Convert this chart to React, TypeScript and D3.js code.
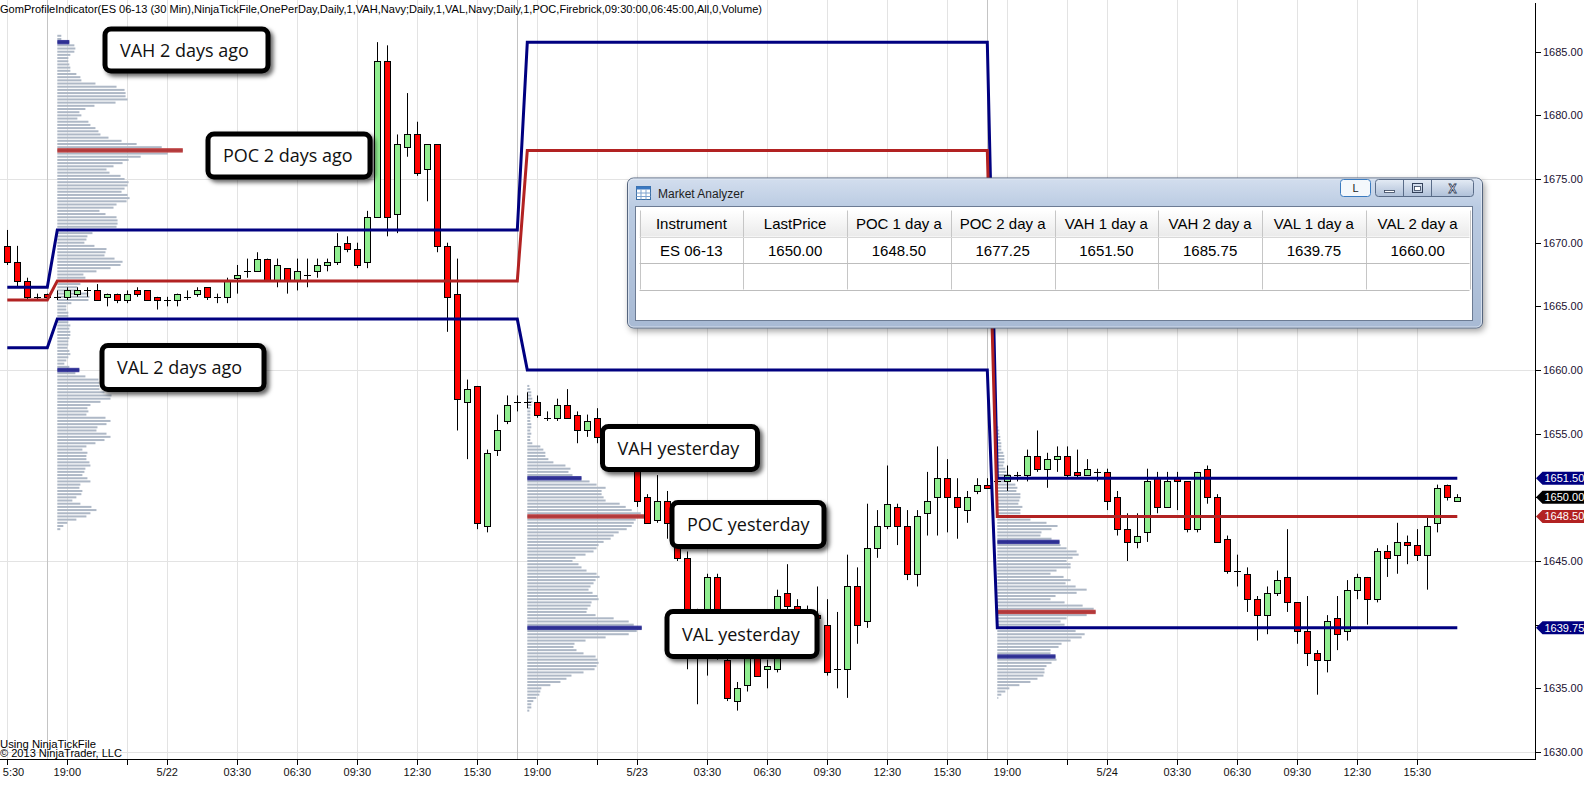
import React from "react";
import * as d3 from "d3";

const W = 1589;
const H = 785;

// 30 min bars, bar 0 = 15:30 on 5/21 (ES 06-13)
const opens = [
  1669.75, 1668.5, 1667.0, 1665.75, 1666.0,
  1665.75, 1665.75, 1666.0, 1666.25, 1666.25, 1665.75, 1666.0, 1665.5, 1666.25, 1666.25,
  1665.75, 1665.5, 1665.5, 1665.75, 1666.0, 1666.5, 1665.75, 1665.75, 1667.25, 1667.75,
  1667.75, 1668.75, 1667.0, 1668.0, 1667.0, 1667.5, 1667.75, 1668.25, 1668.5, 1670.0,
  1669.5, 1668.5, 1672.0, 1684.25, 1672.25, 1677.5, 1678.5, 1675.75, 1677.75, 1669.75,
  1666.0, 1657.5, 1658.75, 1647.75, 1653.75, 1656.0, 1657.5,
  1657.5, 1657.5, 1656.25, 1656.25, 1657.25, 1656.5, 1655.25, 1656.25, 1654.75, 1653.75,
  1654.25, 1652.25, 1650.0, 1648.25, 1649.75, 1647.75, 1645.25, 1640.5, 1639.5, 1643.75,
  1637.25, 1634.0, 1635.25, 1638.75, 1636.5, 1636.5, 1642.5, 1641.5, 1641.25, 1640.75,
  1640.0, 1636.5, 1636.5, 1643.0, 1640.25, 1646.0, 1647.75, 1649.25, 1647.75, 1644.0,
  1648.75, 1650.0, 1651.5, 1650.0, 1649.0, 1650.5, 1651.0,
  1651.25, 1651.25, 1651.75, 1651.75, 1653.25, 1652.25, 1653.0, 1653.25, 1652.0, 1651.75,
  1652.0, 1652.0, 1650.0, 1647.5, 1646.5, 1647.25, 1651.5, 1649.25, 1651.5, 1651.25,
  1647.5, 1652.25, 1650.0, 1646.75, 1644.25, 1644.0, 1642.0, 1640.75, 1642.5, 1643.75,
  1641.75, 1639.5, 1637.75, 1637.25, 1640.5, 1639.5, 1642.75, 1643.75, 1642.0, 1645.75,
  1645.5, 1646.5, 1646.25, 1645.5, 1648.0, 1651.0, 1649.75,
];
const highs = [
  1671.0, 1669.75, 1667.25, 1666.0, 1666.0,
  1666.25, 1666.5, 1666.5, 1666.5, 1666.75, 1666.0, 1666.0, 1666.25, 1666.5, 1666.25,
  1665.75, 1665.75, 1666.0, 1666.25, 1666.5, 1666.5, 1666.0, 1667.25, 1668.25, 1668.75,
  1669.25, 1668.75, 1668.75, 1668.0, 1668.75, 1668.75, 1668.75, 1668.75, 1670.75, 1670.5,
  1670.0, 1672.5, 1685.75, 1685.5, 1678.5, 1681.75, 1679.5, 1677.75, 1677.75, 1670.0,
  1668.75, 1659.25, 1658.75, 1653.75, 1656.5, 1658.0, 1658.0,
  1658.25, 1658.0, 1656.75, 1657.75, 1658.5, 1656.75, 1656.5, 1657.0, 1655.25, 1654.75,
  1654.5, 1652.5, 1650.25, 1651.75, 1650.5, 1648.0, 1645.75, 1641.25, 1644.0, 1644.0,
  1638.0, 1635.5, 1639.25, 1639.5, 1637.25, 1642.75, 1644.75, 1642.0, 1641.5, 1643.0,
  1642.0, 1641.0, 1645.5, 1644.5, 1649.5, 1649.0, 1652.5, 1649.5, 1649.0, 1649.0,
  1652.0, 1654.0, 1653.0, 1651.5, 1650.5, 1651.5, 1651.5,
  1651.5, 1652.5, 1652.0, 1653.75, 1655.25, 1653.5, 1654.0, 1654.0, 1653.75, 1653.0,
  1652.25, 1652.25, 1650.5, 1648.75, 1648.75, 1652.25, 1652.0, 1652.0, 1652.0, 1651.25,
  1652.0, 1652.5, 1650.25, 1647.0, 1645.5, 1644.5, 1642.25, 1643.0, 1644.25, 1647.5,
  1641.75, 1642.25, 1638.0, 1640.75, 1642.25, 1643.5, 1644.0, 1643.75, 1646.0, 1646.25,
  1648.0, 1647.0, 1647.5, 1648.5, 1651.0, 1651.0, 1650.25,
];
const lows = [
  1668.25, 1666.5, 1665.5, 1665.5, 1665.75,
  1665.5, 1665.5, 1665.75, 1665.75, 1665.5, 1665.0, 1665.25, 1665.25, 1665.75, 1665.5,
  1664.75, 1665.0, 1665.0, 1665.5, 1665.75, 1665.5, 1665.25, 1665.25, 1666.0, 1667.25,
  1667.75, 1667.0, 1666.5, 1666.0, 1666.25, 1666.5, 1667.25, 1667.75, 1668.25, 1669.25,
  1668.0, 1668.0, 1672.0, 1670.5, 1670.75, 1676.75, 1675.25, 1673.25, 1669.25, 1663.0,
  1655.25, 1653.0, 1647.5, 1647.25, 1653.25, 1655.75, 1656.75,
  1657.0, 1656.25, 1656.0, 1656.0, 1656.25, 1654.25, 1654.75, 1654.25, 1653.5, 1653.25,
  1652.0, 1649.25, 1648.0, 1648.0, 1646.75, 1645.0, 1636.5, 1633.75, 1636.0, 1637.25,
  1634.0, 1633.25, 1634.75, 1636.0, 1635.0, 1636.25, 1640.75, 1640.0, 1639.5, 1639.5,
  1636.0, 1635.0, 1634.25, 1638.5, 1639.75, 1645.25, 1647.5, 1646.25, 1643.5, 1643.0,
  1647.0, 1647.0, 1647.25, 1646.75, 1648.0, 1650.25, 1650.75,
  1651.0, 1650.5, 1651.25, 1651.25, 1652.0, 1650.75, 1652.0, 1651.5, 1651.5, 1651.75,
  1651.25, 1649.0, 1647.0, 1645.0, 1646.0, 1646.5, 1648.75, 1649.25, 1649.0, 1647.25,
  1647.25, 1649.5, 1646.5, 1644.0, 1643.0, 1641.0, 1638.75, 1639.25, 1642.25, 1641.0,
  1638.5, 1636.75, 1634.5, 1636.25, 1638.0, 1638.75, 1642.0, 1640.0, 1641.75, 1643.75,
  1644.0, 1644.75, 1645.0, 1642.75, 1647.25, 1649.75, 1649.75,
];
const closes = [
  1668.5, 1667.0, 1665.75, 1665.75, 1665.75,
  1665.75, 1666.25, 1666.25, 1666.25, 1665.5, 1666.0, 1665.5, 1666.0, 1666.0, 1665.5,
  1665.5, 1665.5, 1666.0, 1665.75, 1666.25, 1665.75, 1665.75, 1667.0, 1667.5, 1667.75,
  1668.75, 1667.0, 1668.25, 1667.0, 1667.75, 1667.5, 1668.25, 1668.5, 1669.75, 1669.5,
  1668.25, 1672.0, 1684.25, 1672.0, 1677.75, 1678.5, 1675.5, 1677.75, 1669.75, 1665.75,
  1657.75, 1658.5, 1648.0, 1653.5, 1655.25, 1657.25, 1657.5,
  1657.5, 1656.5, 1656.25, 1657.25, 1656.25, 1655.25, 1656.0, 1654.75, 1653.75, 1654.25,
  1652.25, 1649.75, 1648.0, 1649.75, 1648.0, 1645.25, 1640.5, 1640.0, 1643.75, 1639.0,
  1634.25, 1635.0, 1638.5, 1636.0, 1636.75, 1642.25, 1641.5, 1641.25, 1641.0, 1640.5,
  1636.25, 1636.5, 1643.0, 1640.0, 1646.0, 1647.75, 1649.5, 1647.75, 1644.0, 1648.5,
  1649.75, 1651.5, 1650.0, 1649.25, 1650.0, 1651.0, 1650.75,
  1651.25, 1651.75, 1651.75, 1653.25, 1652.25, 1653.0, 1653.25, 1651.75, 1651.75, 1652.25,
  1652.0, 1649.75, 1647.5, 1646.5, 1647.0, 1651.25, 1649.25, 1651.25, 1651.25, 1647.5,
  1652.0, 1650.0, 1646.5, 1644.25, 1644.25, 1642.0, 1640.75, 1642.5, 1643.5, 1641.75,
  1639.5, 1637.75, 1637.25, 1640.25, 1639.25, 1642.75, 1643.75, 1642.0, 1645.75, 1645.25,
  1646.5, 1646.25, 1645.5, 1647.75, 1650.75, 1650.0, 1650.0,
];

// time axis
const tickBars = [0, 6, 12, 16, 23, 29, 35, 41, 47, 53, 59, 63, 70, 76, 82, 88, 94, 100, 106, 110, 117, 123, 129, 135, 141];
const tickLabels = [
  "15:30", "19:00", "", "5/22", "03:30", "06:30", "09:30", "12:30", "15:30",
  "19:00", "", "5/23", "03:30", "06:30", "09:30", "12:30", "15:30",
  "19:00", "", "5/24", "03:30", "06:30", "09:30", "12:30", "15:30",
];
const sessionBreakBars = [4, 51, 98];

// prior-day levels, one value per session
const sessionStartBars = [0, 5, 52, 99];
const vahLevels = [1666.5, 1671.0, 1685.75, 1651.5];
const pocLevels = [1665.5, 1667.0, 1677.25, 1648.5];
const valLevels = [1661.75, 1664.0, 1660.0, 1639.75];

// volume profiles (relative volume per tick, from the top price down)
const profileStartBars = [5, 52, 99];
const profileTops = [1686.25, 1658.75, 1655.5];
const profileA = [
  4, 4, 12,
  17, 18, 17, 13, 11, 11, 12, 13, 13, 19, 23, 24, 38, 59, 67, 68, 68, 70, 58, 37,
  28, 22, 24, 20, 31, 33, 38, 41, 43, 51, 64, 79, 104,
  125,
  110, 83, 71, 65, 56, 49, 52, 63, 67, 71, 70, 67, 64, 70, 72, 69, 59, 56, 42, 48,
  59, 60, 60, 59, 49, 35, 30, 29, 27, 37, 49, 48, 47, 57, 65, 63, 53, 39, 26, 28,
  28, 23, 20, 19, 31, 32, 31, 14, 9, 9, 11, 11, 9, 11, 13, 12, 13, 13, 12, 11, 11,
  10, 12, 13, 11, 9, 7, 12,
  22,
  18, 28, 41, 42, 42, 42, 47, 54, 53, 43, 33, 30, 31, 29, 48, 53, 49, 40, 39, 49,
  53, 47, 38, 29, 25, 30, 29, 29, 32, 33, 28, 27, 25, 30, 33, 23, 22, 25, 24, 19,
  15, 23, 34, 39, 33, 29, 19, 10, 6, 3,
];
const profileB = [
  2, 3, 4, 4, 5, 5, 4, 3, 3, 3, 3, 3, 4, 4, 3, 4, 3, 3, 5, 13, 16, 18, 18, 21, 26, 38, 43, 41, 45,
  54,
  62, 69, 78, 74, 74, 76, 78, 92, 98, 104, 113,
  121,
  108, 106, 104, 99, 91, 86, 83, 76, 71, 69, 66, 58, 48, 45, 51, 54, 59, 69, 72, 68,
  66, 63, 61, 65, 70, 71, 64, 63, 60, 59, 68, 86, 101, 106,
  114,
  109, 101, 78, 58, 47, 46, 49, 56, 68, 70, 71, 69, 67, 56, 44, 39, 33, 23, 14, 13, 12, 9, 6, 4, 4, 2,
];
const profileC = [
  1, 2, 2, 3, 3, 4, 4, 4, 6, 7, 7, 7, 6, 8, 9, 13, 16, 13, 18, 20, 19, 23, 23, 22, 21, 25,
  23, 23, 33, 33, 49, 60, 54, 44, 43, 54,
  62,
  63, 69, 79, 81, 75, 69, 73, 73, 59, 53, 66, 73, 68, 78, 89, 79, 58, 53, 67, 85, 96,
  98,
  89, 69, 63, 67, 71, 78, 87, 84, 73, 64, 61, 53, 53,
  58,
  59, 54, 49, 47, 47, 46, 40, 33, 22, 12, 8, 4, 1,
];
const profiles = [profileA, profileB, profileC];
const profileVah = [1685.75, 1651.5, 1646.5];
const profilePoc = [1677.25, 1648.5, 1641.0];
const profileVal = [1660.0, 1639.75, 1637.5];

const yTicks = [1630, 1635, 1640, 1645, 1650, 1655, 1660, 1665, 1670, 1675, 1680, 1685];
const yGrid = [1630, 1645, 1660, 1675];

const analyzerColumns = ["Instrument", "LastPrice", "POC 1 day a", "POC 2 day a", "VAH 1 day a", "VAH 2 day a", "VAL 1 day a", "VAL 2 day a"];
const analyzerRow = ["ES 06-13", "1650.00", "1648.50", "1677.25", "1651.50", "1685.75", "1639.75", "1660.00"];

const titleText =
  "GomProfileIndicator(ES 06-13 (30 Min),NinjaTickFile,OnePerDay,Daily,1,VAH,Navy;Daily,1,VAL,Navy;Daily,1,POC,Firebrick,09:30:00,06:45:00,All,0,Volume)";

// annotation layout (not data)
const callouts = [
  { text: "VAH 2 days ago", x: 105, y: 29, w: 163, h: 42 },
  { text: "POC 2 days ago", x: 208, y: 134, w: 162, h: 43 },
  { text: "VAL 2 days ago", x: 102, y: 345.5, w: 162, h: 44 },
  { text: "VAH yesterday", x: 602.5, y: 426.5, w: 155, h: 43 },
  { text: "POC yesterday", x: 672, y: 502.5, w: 152, h: 44 },
  { text: "VAL yesterday", x: 667, y: 611.5, w: 150, h: 45 },
];

const NAVY = "#000080";
const FIRE = "#B22222";
const PLOT_RIGHT = 1535;
const PLOT_BOTTOM = 759;

export default function App() {
  const n = opens.length;
  const x = d3.scaleLinear().domain([0, n - 1]).range([7.3, 1457.3]);
  const y = d3.scaleLinear().domain([1630, 1685]).range([752, 51.7]);
  const vol = d3.scaleLinear().domain([0, 125]).range([0, 125.5]);
  const fmt = d3.format(".2f");

  const bars = d3.range(n);
  const sessionOf = (i: number) => d3.bisectRight(sessionStartBars, i) - 1;
  const levelPath = (levels: number[]) =>
    d3
      .line<number>()
      .x((i) => x(i))
      .y((i) => y(levels[sessionOf(i)]))(bars) as string;

  const crisp = (v: number) => Math.round(v) + 0.5;

  const markers = [
    { v: vahLevels[3], c: NAVY },
    { v: closes[n - 1], c: "#000" },
    { v: pocLevels[3], c: FIRE },
    { v: valLevels[3], c: NAVY },
  ];
  // axis labels hidden behind a price marker
  const shownTicks = yTicks.filter((p) => markers.every((m) => Math.abs(y(m.v) - y(p)) > 10));

  // market analyzer geometry
  const win = { x: 627.5, y: 178, w: 855, h: 150 };
  const grid = { x: 639.5, y: 210.5, colW: 103.75, headH: 26, rowH: 26.5 };

  return (
    <svg
      width={W}
      height={H}
      style={{ position: "absolute", left: 0, top: 0, background: "#fff" }}
      fontFamily="'Liberation Sans', Arial, sans-serif"
    >
      <defs>
        <filter id="boxShadow" x="-10%" y="-20%" width="130%" height="160%">
          <feDropShadow dx="3" dy="3" stdDeviation="2" floodColor="#000" floodOpacity="0.6" />
        </filter>
        <filter id="winShadow" x="-5%" y="-10%" width="110%" height="130%">
          <feDropShadow dx="2" dy="3" stdDeviation="3" floodColor="#000" floodOpacity="0.35" />
        </filter>
        <linearGradient id="frameGrad" x1="0" y1="0" x2="0" y2="1">
          <stop offset="0" stopColor="#D3DEEE" />
          <stop offset="0.2" stopColor="#BACBE2" />
          <stop offset="1" stopColor="#A8BAD4" />
        </linearGradient>
        <linearGradient id="headGrad" x1="0" y1="0" x2="0" y2="1">
          <stop offset="0" stopColor="#FFFFFF" />
          <stop offset="1" stopColor="#EAEAEA" />
        </linearGradient>
        <linearGradient id="btnGrad" x1="0" y1="0" x2="0" y2="1">
          <stop offset="0" stopColor="#E4EBF5" />
          <stop offset="0.5" stopColor="#C9D5E6" />
          <stop offset="1" stopColor="#AFC0D8" />
        </linearGradient>
        <clipPath id="plotClip">
          <rect x={0} y={0} width={PLOT_RIGHT} height={PLOT_BOTTOM} />
        </clipPath>
      </defs>

      <g clipPath="url(#plotClip)">
        {/* grid */}
        {tickBars.map((b, i) => (
          <line key={"vg" + i} x1={crisp(x(b))} x2={crisp(x(b))} y1={0} y2={PLOT_BOTTOM} stroke="#E3E3E3" />
        ))}
        {yGrid.map((p) => (
          <line key={"hg" + p} x1={0} x2={PLOT_RIGHT} y1={crisp(y(p))} y2={crisp(y(p))} stroke="#E3E3E3" />
        ))}
        {sessionBreakBars.map((b) => (
          <line key={"sb" + b} x1={crisp(x(b))} x2={crisp(x(b))} y1={0} y2={PLOT_BOTTOM} stroke="#C4C4C4" />
        ))}

        {/* volume profiles */}
        {profiles.map((rows, p) => {
          const x0 = x(profileStartBars[p]);
          const top = profileTops[p];
          const idx = (lvl: number) => Math.round((top - lvl) / 0.25);
          const hl = [
            { j: idx(profileVah[p]), c: NAVY, o: 0.75 },
            { j: idx(profilePoc[p]), c: FIRE, o: 0.85 },
            { j: idx(profileVal[p]), c: NAVY, o: 0.75 },
          ];
          return (
            <g key={"pf" + p}>
              {rows.map((v, j) => (
                <rect key={j} x={x0} y={y(top - j * 0.25) - 1} width={vol(v)} height={2} fill="#AEB8C6" />
              ))}
              {hl.map((h, k) => (
                <rect
                  key={"h" + k}
                  x={x0}
                  y={y(top - h.j * 0.25) - 2.2}
                  width={vol(rows[h.j])}
                  height={4.4}
                  fill={h.c}
                  fillOpacity={h.o}
                />
              ))}
            </g>
          );
        })}

        {/* candles */}
        {bars.map((i) => {
          const cx = Math.round(x(i));
          const o = opens[i];
          const c = closes[i];
          const wick = (
            <line x1={cx + 0.5} x2={cx + 0.5} y1={y(highs[i])} y2={y(lows[i])} stroke="#000" strokeWidth={1} />
          );
          if (o === c) {
            return (
              <g key={"c" + i}>
                {wick}
                <line x1={cx - 3} x2={cx + 4} y1={crisp(y(o))} y2={crisp(y(o))} stroke="#000" />
              </g>
            );
          }
          const yt = Math.round(y(Math.max(o, c))) + 0.5;
          const yb = Math.round(y(Math.min(o, c))) + 0.5;
          return (
            <g key={"c" + i}>
              {wick}
              <rect
                x={cx - 2.5}
                y={yt}
                width={6}
                height={Math.max(1, yb - yt)}
                fill={c > o ? "#90EE90" : "#FF0000"}
                stroke="#000"
                strokeWidth={1}
              />
            </g>
          );
        })}

        {/* prior-day level lines */}
        <path d={levelPath(vahLevels)} fill="none" stroke={NAVY} strokeWidth={3} />
        <path d={levelPath(valLevels)} fill="none" stroke={NAVY} strokeWidth={3} />
        <path d={levelPath(pocLevels)} fill="none" stroke={FIRE} strokeWidth={3} />
      </g>

      {/* title and copyright */}
      <text x={0} y={13} fontSize={11.5} fill="#000" textLength={762} lengthAdjust="spacingAndGlyphs">
        {titleText}
      </text>
      <text x={0} y={747.5} fontSize={11} fill="#000" textLength={96} lengthAdjust="spacingAndGlyphs">
        Using NinjaTickFile
      </text>
      <text x={0} y={757} fontSize={11} fill="#000" textLength={122} lengthAdjust="spacingAndGlyphs">
        © 2013 NinjaTrader, LLC
      </text>

      {/* callouts */}
      {callouts.map((c) => (
        <g key={c.text}>
          <rect
            x={c.x}
            y={c.y}
            width={c.w}
            height={c.h}
            rx={6}
            fill="#fff"
            stroke="#000"
            strokeWidth={5}
            filter="url(#boxShadow)"
          />
          <text
            x={c.x + 15}
            y={c.y + c.h / 2 + 6.5}
            fontFamily="'Open Sans', 'Noto Sans', sans-serif"
            fontSize={18}
            fill="#111"
          >
            {c.text}
          </text>
        </g>
      ))}

      {/* axes */}
      <line x1={0} x2={PLOT_RIGHT + 0.5} y1={PLOT_BOTTOM + 0.5} y2={PLOT_BOTTOM + 0.5} stroke="#000" />
      <line x1={PLOT_RIGHT + 0.5} x2={PLOT_RIGHT + 0.5} y1={3} y2={PLOT_BOTTOM + 1} stroke="#000" />
      {tickBars.map((b, i) => (
        <g key={"xt" + i}>
          <line x1={crisp(x(b))} x2={crisp(x(b))} y1={PLOT_BOTTOM} y2={PLOT_BOTTOM + 6} stroke="#000" />
          {tickLabels[i] && (
            <text x={Math.max(x(b), 13.5)} y={776} fontSize={11} textAnchor="middle" fill="#111">
              {i === 0 ? tickLabels[i].slice(1) : tickLabels[i]}
            </text>
          )}
        </g>
      ))}
      {yTicks.map((p) => (
        <line key={"ytk" + p} x1={PLOT_RIGHT} x2={PLOT_RIGHT + 6} y1={crisp(y(p))} y2={crisp(y(p))} stroke="#000" />
      ))}
      {shownTicks.map((p) => (
        <text key={"yt" + p} x={1543} y={y(p) + 4} fontSize={11} fill="#1A1030">
          {fmt(p)}
        </text>
      ))}
      {markers.map((m, k) => {
        const yv = y(m.v);
        const pts = [
          [1536, yv],
          [1542.5, yv - 6.5],
          [1584, yv - 6.5],
          [1584, yv + 6.5],
          [1542.5, yv + 6.5],
        ]
          .map((p) => p.join(","))
          .join(" ");
        return (
          <g key={"mk" + k}>
            <polygon points={pts} fill={m.c} />
            <text x={1544.5} y={yv + 4} fontSize={11} fill="#fff">
              {fmt(m.v)}
            </text>
          </g>
        );
      })}

      {/* Market Analyzer window */}
      <g>
        <rect
          x={win.x}
          y={win.y}
          width={win.w}
          height={win.h}
          rx={6}
          fill="url(#frameGrad)"
          stroke="#55657E"
          filter="url(#winShadow)"
        />
        <rect x={win.x + 1} y={win.y + 1} width={win.w - 2} height={win.h - 2} rx={5} fill="none" stroke="#E8EEF7" strokeOpacity={0.7} />
        {/* icon */}
        <rect x={636.5} y={186.5} width={14} height={13} fill="#FFFFFF" stroke="#3A6EA5" />
        <rect x={636.5} y={186.5} width={14} height={3} fill="#3A78C2" />
        <line x1={641} x2={641} y1={189.5} y2={199.5} stroke="#7FA3CF" />
        <line x1={646} x2={646} y1={189.5} y2={199.5} stroke="#7FA3CF" />
        <line x1={636.5} x2={650.5} y1={193} y2={193} stroke="#7FA3CF" />
        <line x1={636.5} x2={650.5} y1={196.5} y2={196.5} stroke="#7FA3CF" />
        <text x={658} y={197.5} fontSize={12} fill="#1E1E1E">
          Market Analyzer
        </text>
        {/* title buttons */}
        <rect x={1340.5} y={179.5} width={30} height={17} rx={3} fill="#F4F8FC" stroke="#3B7BBF" />
        <text x={1355.5} y={192} fontSize={11} textAnchor="middle" fill="#222">
          L
        </text>
        <rect x={1375.5} y={179.5} width={98} height={17} rx={3} fill="url(#btnGrad)" stroke="#5A6C88" />
        <line x1={1403.5} x2={1403.5} y1={180} y2={196} stroke="#5A6C88" />
        <line x1={1431.5} x2={1431.5} y1={180} y2={196} stroke="#5A6C88" />
        <rect x={1384.5} y={190.5} width={10} height={2} fill="#fff" stroke="#33415A" strokeWidth={0.8} />
        <rect x={1412.5} y={183.5} width={10} height={9} fill="none" stroke="#33415A" strokeWidth={1} />
        <rect x={1414.5} y={186.5} width={6} height={4} fill="#fff" stroke="#33415A" strokeWidth={0.8} />
        <text x={1452.5} y={193} fontSize={12} fontWeight="bold" textAnchor="middle" fill="#fff" stroke="#33415A" strokeWidth={0.8}>
          X
        </text>
        {/* client area */}
        <rect x={635.5} y={206.5} width={837} height={114} fill="#FFFFFF" stroke="#6C7B93" />
        <rect x={grid.x} y={grid.y} width={grid.colW * 8} height={grid.headH} fill="url(#headGrad)" />
        {analyzerColumns.map((col, k) => {
          const cx0 = grid.x + k * grid.colW;
          return (
            <g key={"col" + k}>
              <line x1={crisp(cx0)} x2={crisp(cx0)} y1={grid.y} y2={grid.y + grid.headH + 2 * grid.rowH} stroke="#C6C6C6" />
              <text x={cx0 + grid.colW / 2} y={grid.y + 18.5} fontSize={15} textAnchor="middle" fill="#000">
                {col}
              </text>
              <text x={cx0 + grid.colW / 2} y={grid.y + grid.headH + 19} fontSize={15} textAnchor="middle" fill="#000">
                {analyzerRow[k]}
              </text>
            </g>
          );
        })}
        <line
          x1={crisp(grid.x + 8 * grid.colW)}
          x2={crisp(grid.x + 8 * grid.colW)}
          y1={grid.y}
          y2={grid.y + grid.headH + 2 * grid.rowH}
          stroke="#C6C6C6"
        />
        {[grid.headH, grid.headH + grid.rowH, grid.headH + 2 * grid.rowH].map((dy, k) => (
          <line
            key={"rl" + k}
            x1={grid.x}
            x2={grid.x + 8 * grid.colW}
            y1={crisp(grid.y + dy)}
            y2={crisp(grid.y + dy)}
            stroke={k === 0 ? "#D8D8D8" : "#BDBDBD"}
          />
        ))}
      </g>
    </svg>
  );
}
